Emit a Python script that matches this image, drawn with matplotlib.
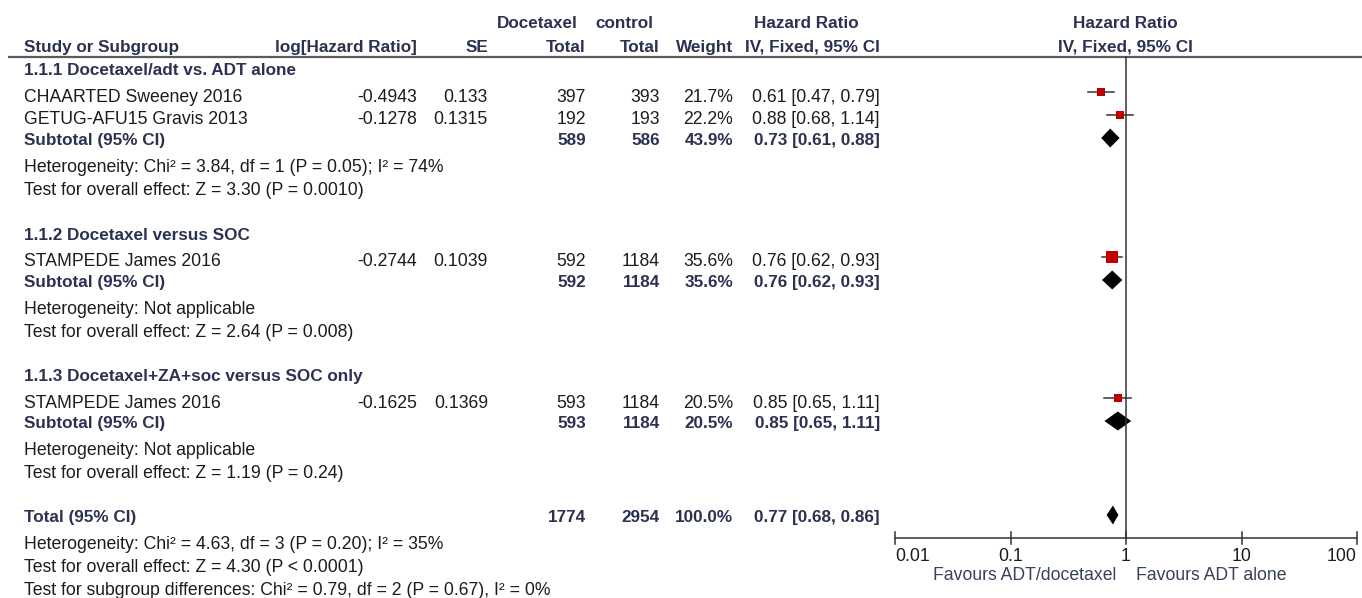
import matplotlib
matplotlib.use("Agg")
import matplotlib.pyplot as plt
import numpy as np

plt.rcParams['font.family'] = ['Liberation Sans', 'DejaVu Sans']

# ---- data -------------------------------------------------------------
group_titles = ["1.1.1 Docetaxel/adt vs. ADT alone",
                "1.1.2 Docetaxel versus SOC",
                "1.1.3 Docetaxel+ZA+soc versus SOC only"]
study_names = ["CHAARTED Sweeney 2016", "GETUG-AFU15 Gravis 2013",
               "STAMPEDE James 2016", "STAMPEDE James 2016"]
study_group = [0, 0, 1, 2]
log_hr = [-0.4943, -0.1278, -0.2744, -0.1625]
se = [0.133, 0.1315, 0.1039, 0.1369]
doc_total = [397, 192, 592, 593]
ctrl_total = [393, 193, 1184, 1184]
weight = [21.7, 22.2, 35.6, 20.5]
hr = [0.61, 0.88, 0.76, 0.85]
hr_lo = [0.47, 0.68, 0.62, 0.65]
hr_hi = [0.79, 1.14, 0.93, 1.11]

sub_doc = [589, 592, 593]
sub_ctrl = [586, 1184, 1184]
sub_weight = [43.9, 35.6, 20.5]
sub_hr = [0.73, 0.76, 0.85]
sub_lo = [0.61, 0.62, 0.65]
sub_hi = [0.88, 0.93, 1.11]
sub_het = ["Heterogeneity: Chi\u00b2 = 3.84, df = 1 (P = 0.05); I\u00b2 = 74%",
           "Heterogeneity: Not applicable",
           "Heterogeneity: Not applicable"]
sub_test = ["Test for overall effect: Z = 3.30 (P = 0.0010)",
            "Test for overall effect: Z = 2.64 (P = 0.008)",
            "Test for overall effect: Z = 1.19 (P = 0.24)"]

tot_doc = 1774
tot_ctrl = 2954
tot_weight = 100.0
tot_hr, tot_lo, tot_hi = 0.77, 0.68, 0.86
tot_notes = ["Heterogeneity: Chi\u00b2 = 4.63, df = 3 (P = 0.20); I\u00b2 = 35%",
             "Test for overall effect: Z = 4.30 (P < 0.0001)",
             "Test for subgroup differences: Chi\u00b2 = 0.79, df = 2 (P = 0.67), I\u00b2 = 0%"]

axis_ticks = [0.01, 0.1, 1, 10, 100]
axis_ticklabels = ["0.01", "0.1", "1", "10", "100"]
favours_left = "Favours ADT/docetaxel"
favours_right = "Favours ADT alone"

# ---- layout -----------------------------------------------------------
W, H = 1362, 598
FS_B = 12.3      # bold headings
FS_R = 12.7      # regular text
TXT = "#1c1c1c"
HEAD = "#2b3150"
RED = "#c00000"

fig = plt.figure(figsize=(W / 100, H / 100), dpi=100)
ax = fig.add_axes([0, 0, 1, 1])
ax.set_xlim(0, W)
ax.set_ylim(H, 0)
ax.axis("off")

# forest panel on a log scale
fx0, fx1 = 895, 1357
fa = fig.add_axes([fx0 / W, 0, (fx1 - fx0) / W, 1])
fa.set_xscale("log")
fa.set_xlim(0.01, 100)
fa.set_ylim(H, 0)
fa.axis("off")

# column anchors (pixels)
X_NAME = 24
X_LOG = 417
X_SE = 488
X_DOC = 586
X_CTRL = 660
X_W = 733
X_HR = 880


def put(x, y, s, ha="left", bold=False, color=None):
    ax.text(x, y, s, ha=ha, va="baseline",
            fontsize=FS_B if bold else FS_R,
            fontweight="bold" if bold else "normal",
            color=color or (HEAD if bold else TXT))


# header
put(578, 28, "Docetaxel", ha="right", bold=True)
put(653, 28, "control", ha="right", bold=True)
put(806, 28, "Hazard Ratio", ha="center", bold=True)
put(1125, 28, "Hazard Ratio", ha="center", bold=True)
put(X_NAME, 52, "Study or Subgroup", bold=True)
put(X_LOG, 52, "log[Hazard Ratio]", ha="right", bold=True)
put(X_SE, 52, "SE", ha="right", bold=True)
put(X_DOC, 52, "Total", ha="right", bold=True)
put(X_CTRL, 52, "Total", ha="right", bold=True)
put(X_W, 52, "Weight", ha="right", bold=True)
put(X_HR, 52, "IV, Fixed, 95% CI", ha="right", bold=True)
put(1125, 52, "IV, Fixed, 95% CI", ha="center", bold=True)
ax.plot([8, W], [57, 57], color="#5a5a5a", lw=1.6, solid_capstyle="butt")

# null line
fa.plot([1, 1], [57, 538], color="#333333", lw=1.1)

group_top = [75, 240, 381]
row_step = 23


def diamond(y, c, lo, hi, h=19):
    fa.fill([lo, c, hi, c], [y, y - h / 2, y, y + h / 2], color="black", lw=0)


for g in range(3):
    y = group_top[g]
    put(X_NAME, y, group_titles[g], bold=True)
    y += 26.5
    for i in range(len(study_names)):
        if study_group[i] != g:
            continue
        put(X_NAME, y, study_names[i])
        put(X_LOG, y, f"{log_hr[i]:g}", ha="right")
        put(X_SE, y, f"{se[i]:g}", ha="right")
        put(X_DOC, y, f"{doc_total[i]}", ha="right")
        put(X_CTRL, y, f"{ctrl_total[i]}", ha="right")
        put(X_W, y, f"{weight[i]:.1f}%", ha="right")
        put(X_HR, y, f"{hr[i]:.2f} [{hr_lo[i]:.2f}, {hr_hi[i]:.2f}]", ha="right")
        ym = y - 9.5
        fa.plot([hr_lo[i], hr_hi[i]], [ym, ym], color="#333333", lw=1.1)
        side = 2.0 + 0.27 * weight[i]
        fa.plot([hr[i]], [ym], marker="s", ms=side * 0.72, color=RED,
                mec=RED, mew=0, ls="none")
        y += row_step
    y -= 2.5
    put(X_NAME, y, "Subtotal (95% CI)", bold=True)
    put(X_DOC, y, f"{sub_doc[g]}", ha="right", bold=True)
    put(X_CTRL, y, f"{sub_ctrl[g]}", ha="right", bold=True)
    put(X_W, y, f"{sub_weight[g]:.1f}%", ha="right", bold=True)
    put(X_HR, y, f"{sub_hr[g]:.2f} [{sub_lo[g]:.2f}, {sub_hi[g]:.2f}]", ha="right", bold=True)
    diamond(y - 7, sub_hr[g], sub_lo[g], sub_hi[g])
    y += 27
    put(X_NAME, y, sub_het[g])
    y += 23
    put(X_NAME, y, sub_test[g])

# overall
y = 522
put(X_NAME, y, "Total (95% CI)", bold=True)
put(X_DOC, y, f"{tot_doc}", ha="right", bold=True)
put(X_CTRL, y, f"{tot_ctrl}", ha="right", bold=True)
put(X_W, y, f"{tot_weight:.1f}%", ha="right", bold=True)
put(X_HR, y, f"{tot_hr:.2f} [{tot_lo:.2f}, {tot_hi:.2f}]", ha="right", bold=True)
diamond(y - 7, tot_hr, tot_lo, tot_hi)
for k, note in enumerate(tot_notes):
    put(X_NAME, y + 27 + 23 * k, note)

# bottom axis
ya = 537.7
fa.plot([0.01, 100], [ya, ya], color="#333333", lw=1.1, clip_on=False)
for t, lab in zip(axis_ticks, axis_ticklabels):
    fa.plot([t, t], [532, 544], color="#333333", lw=1.1, clip_on=False)
    ha = "left" if t == axis_ticks[0] else ("right" if t == axis_ticks[-1] else "center")
    fa.text(t, 561, lab, ha=ha, va="baseline", fontsize=FS_R, color=TXT, clip_on=False)
fa.text(0.82, 580, favours_left, ha="right", va="baseline", fontsize=FS_R, color="#38415a")
fa.text(1.22, 580, favours_right, ha="left", va="baseline", fontsize=FS_R, color="#38415a")

fig.savefig("out.png", dpi=100, facecolor="white")
